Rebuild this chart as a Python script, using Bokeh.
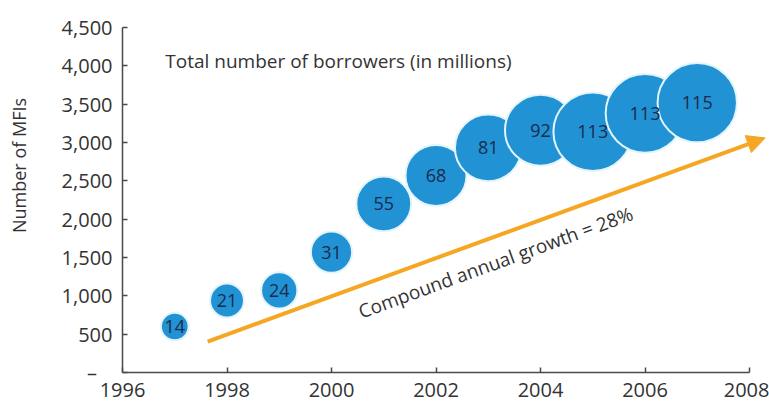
import math
from bokeh.plotting import figure
from bokeh.models import (ColumnDataSource, LinearAxis, FixedTicker, NumeralTickFormatter,
                          Range1d, Label, Arrow, NormalHead)
from bokeh.core.properties import value
from bokeh.embed import file_html
from bokeh.resources import INLINE

# ---------------- data ----------------
years = [1997, 1998, 1999, 2000, 2001, 2002, 2003, 2004, 2005, 2006, 2007]
num_mfis = [600, 940, 1070, 1570, 2200, 2570, 2930, 3160, 3140, 3380, 3520]
borrowers_millions = [14, 21, 24, 31, 55, 68, 81, 92, 113, 113, 115]
x_ticks = [1996, 1998, 2000, 2002, 2004, 2006, 2008]
y_ticks = [0, 500, 1000, 1500, 2000, 2500, 3000, 3500, 4000, 4500]
y_title = "Number of MFIs"
bubble_title = "Total number of borrowers (in millions)"
growth_label = "Compound annual growth = 28%"
trend_x = [1997.63, 2008.3]
trend_y = [404, 3060]

# ---------------- layout ----------------
W, H = 769, 403
PX_PER_YEAR = 52.25
PX_PER_UNIT = 345.0 / 4500.0
ORIGIN_X, ORIGIN_Y = 122, 372   # canvas px of (1996, 0)
x0 = 1996 - ORIGIN_X / PX_PER_YEAR
x1 = x0 + W / PX_PER_YEAR
y0 = -(H - ORIGIN_Y) / PX_PER_UNIT
y1 = y0 + H / PX_PER_UNIT

FONT = "Open Sans"
AXIS_COLOR = "#4a4a4a"
TEXT_COLOR = "#333333"
BLUE = "#2192d4"
ORANGE = "#f5a623"

p = figure(width=W, height=H, x_range=Range1d(x0, x1), y_range=Range1d(y0, y1),
           output_backend="svg", toolbar_location=None,
           x_axis_location=None, y_axis_location=None, min_border=0)
p.outline_line_color = None
p.background_fill_color = "white"
p.border_fill_color = "white"
p.grid.grid_line_color = None
p.grid.visible = False


def style_axis(ax):
    ax.axis_line_color = AXIS_COLOR
    ax.axis_line_width = 1.5
    ax.major_tick_line_color = AXIS_COLOR
    ax.major_tick_line_width = 1.5
    ax.major_tick_in = 5
    ax.major_tick_out = 0
    ax.minor_tick_line_color = None
    ax.major_label_text_font = FONT
    ax.major_label_text_font_size = "20px"
    ax.major_label_text_color = TEXT_COLOR


xaxis = LinearAxis(fixed_location=0, bounds=(1996, 2008), ticker=FixedTicker(ticks=x_ticks))
style_axis(xaxis)
xaxis.major_label_standoff = 10
p.add_layout(xaxis, "below")

yaxis = LinearAxis(fixed_location=1996, bounds=(0, 4500), ticker=FixedTicker(ticks=y_ticks),
                   formatter=NumeralTickFormatter(format="0,0"),
                   major_label_overrides={0: "–\u00a0\u00a0\u00a0"})
style_axis(yaxis)
yaxis.major_label_standoff = 10
p.add_layout(yaxis, "left")

src = ColumnDataSource(dict(
    year=years,
    mfis=num_mfis,
    label=[str(b) for b in borrowers_millions],
    size=[7.4 * math.sqrt(b) for b in borrowers_millions],
))

p.scatter(x="year", y="mfis", size="size", source=src, fill_color=BLUE,
          line_color="#e4f4fb", line_width=2)
p.text(x="year", y="mfis", text="label", source=src, text_align="center",
       text_baseline="middle", text_font=value(FONT), text_font_size="18px",
       text_color="#1a2b4c")

p.add_layout(Arrow(end=NormalHead(size=18, fill_color=ORANGE, line_color=ORANGE),
                   x_start=trend_x[0], y_start=trend_y[0], x_end=trend_x[1], y_end=trend_y[1],
                   line_color=ORANGE, line_width=4))

p.add_layout(Label(x=2003.14, y=1435, text=growth_label, angle=0.349,
                   text_align="center", text_baseline="middle", text_font=FONT,
                   text_font_size="19px", text_color=TEXT_COLOR))

p.add_layout(Label(x=1996.82, y=4069, text=bubble_title, text_align="left",
                   text_baseline="middle", text_font=FONT, text_font_size="19px",
                   text_color=TEXT_COLOR))

p.add_layout(Label(x=x0 + 18 / PX_PER_YEAR, y=2700, text=y_title, angle=math.pi / 2,
                   text_align="center", text_baseline="middle", text_font=FONT,
                   text_font_size="18px", text_color=TEXT_COLOR))

open("out.html", "w").write(file_html(p, INLINE))
